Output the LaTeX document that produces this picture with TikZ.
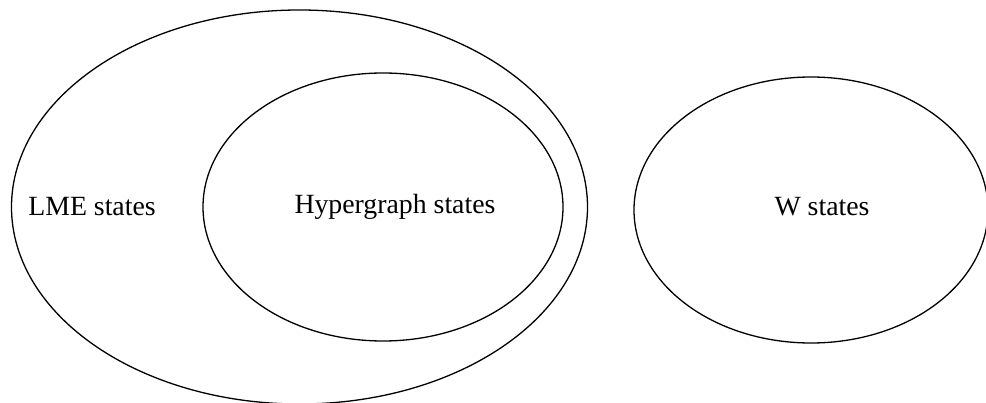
\documentclass[tikz,border=0pt]{standalone}
\usepackage{fontspec}
\setmainfont{Liberation Serif}
\usetikzlibrary{positioning}

\tikzset{
    setline/.style={line width=1.3pt, black},
    setlabel/.style={font=\fontsize{27.8}{33}\selectfont, inner sep=0pt}
}

\begin{document}
\begin{tikzpicture}[x=1pt, y=-1pt]
    \useasboundingbox (0,0) rectangle (986,403);

    % Outer set: LME states
    \draw[setline] (299.5,207) ellipse [x radius=288, y radius=197];

    % Inner set: hypergraph states
    \draw[setline] (383,207) ellipse [x radius=180, y radius=134];

    % Separate set: W states
    \draw[setline] (811,210) ellipse [x radius=177, y radius=133];

    % Labels
    \node[setlabel] (lme) at (92,207) {LME states};
    \node[setlabel] (hyper) at (395,207) {Hypergraph states};
    \node[setlabel] (wst) at (822,207) {W states};
\end{tikzpicture}
\end{document}
